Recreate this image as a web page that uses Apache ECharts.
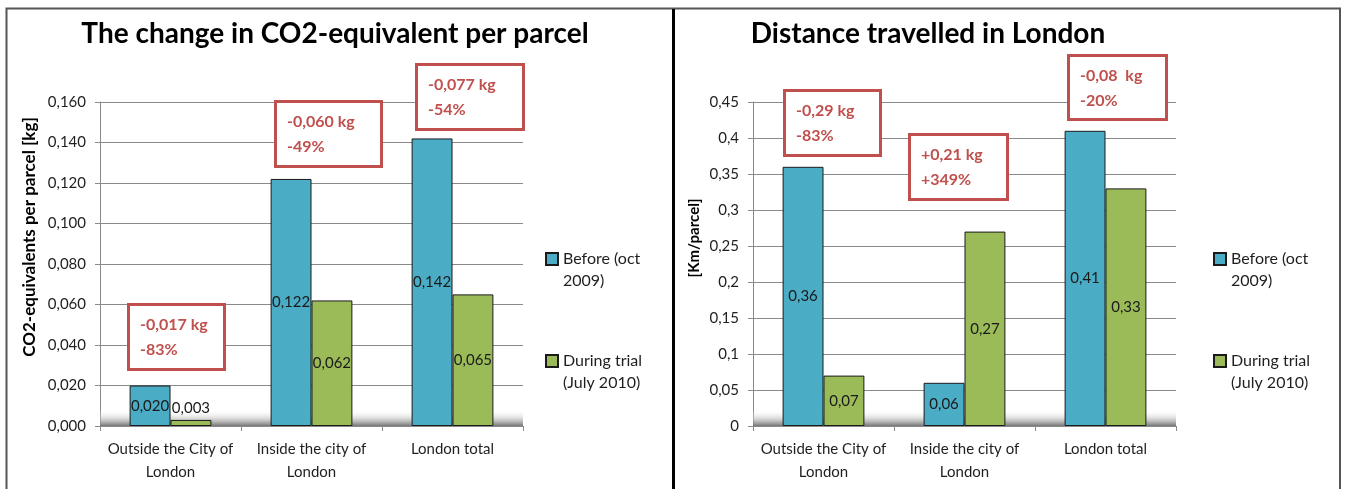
<!DOCTYPE html>
<html>
<head>
<meta charset="utf-8">
<script src="https://cdn.jsdelivr.net/npm/echarts@6/dist/echarts.min.js"></script>
<style>
html,body{margin:0;padding:0;background:#fff;}
#c{width:1347px;height:489px;}
</style>
</head>
<body>
<div id="c"></div>
<script>
// ---- data ----
const categories = ['Outside the City of\nLondon', 'Inside the city of\nLondon', 'London total'];
const seriesNames = ['Before (oct\n2009)', 'During trial\n(July 2010)'];
const co2Before = [0.020, 0.122, 0.142];
const co2During = [0.003, 0.062, 0.065];
const distBefore = [0.36, 0.06, 0.41];
const distDuring = [0.07, 0.27, 0.33];
const co2Axis = { min: 0, max: 0.16, interval: 0.02 };
const distAxis = { min: 0, max: 0.45, interval: 0.05 };
const co2Title = 'The change in CO2-equivalent per parcel';
const distTitle = 'Distance travelled in London';
const co2AxisName = 'CO2-equivalents per parcel [kg]';
const distAxisName = '[Km/parcel]';
const co2Notes = [['-0,017 kg', '-83%'], ['-0,060 kg', '-49%'], ['-0,077 kg', '-54%']];
const distNotes = [['-0,29 kg', '-83%'], ['+0,21 kg', '+349%'], ['-0,08  kg', '-20%']];

// ---- style / layout ----
const FONT = 'Lato, "Open Sans", sans-serif';
const BLUE = '#4BACC6', GREEN = '#9BBB59', RED = '#C0504D';
const TXT = '#1f1f1f', GRID = '#8a8a8a';
const co2Boxes = [[127, 303, 226, 371], [274, 100, 383, 168], [415, 63, 525, 131]];
const distBoxes = [[783, 89, 882, 157], [908, 133, 1009, 201], [1067, 54, 1168, 121]];

const chart = echarts.init(document.getElementById('c'), null, { renderer: 'canvas' });

function fmt(d) { return v => v.toFixed(d).replace('.', ','); }
function fmtTrim(v) { return String(Math.round(v * 100) / 100).replace('.', ','); }

function xAxis(gi) {
  return {
    type: 'category', gridIndex: gi, data: categories,
    axisLine: { lineStyle: { color: GRID, width: 1 } },
    axisTick: { show: true, length: 5, alignWithLabel: false, lineStyle: { color: GRID } },
    axisLabel: { interval: 0, fontFamily: FONT, fontSize: 15, color: TXT, lineHeight: 23, margin: 12 }
  };
}
function yAxis(gi, ax, formatter) {
  return {
    type: 'value', gridIndex: gi, min: ax.min, max: ax.max, interval: ax.interval,
    axisLine: { show: true, lineStyle: { color: GRID } },
    axisTick: { show: true, length: 5, lineStyle: { color: GRID } },
    splitLine: { lineStyle: { color: GRID } },
    axisLabel: { fontFamily: FONT, fontSize: 15, color: TXT, margin: 14, formatter: formatter }
  };
}
function barSeries(name, data, gi, color, decimals, custom) {
  return {
    type: 'bar', name: name, xAxisIndex: gi, yAxisIndex: gi,
    data: data.map((v, i) => (custom && custom[i]) ? Object.assign({ value: v }, custom[i]) : v),
    barGap: '0%', barCategoryGap: '42%', z: 3,
    itemStyle: { color: color, borderColor: '#1a1a1a', borderWidth: 1 },
    label: { show: true, position: 'inside', fontFamily: FONT, fontSize: 15, color: '#1a1a1a',
      formatter: p => p.value.toFixed(decimals).replace('.', ',') }
  };
}
function floorSeries(gi, top) {
  return {
    type: 'line', xAxisIndex: gi, yAxisIndex: gi, data: [], silent: true, z: 1,
    markArea: { silent: true,
      itemStyle: { color: new echarts.graphic.LinearGradient(0, 0, 0, 1, [
        { offset: 0, color: 'rgba(255,255,255,0)' }, { offset: 0.55, color: 'rgba(190,190,190,0.6)' }, { offset: 1, color: 'rgba(110,110,110,0.95)' }]) },
      data: [[{ yAxis: 0 }, { yAxis: top }]] }
  };
}
function legend(left) {
  return {
    data: seriesNames, orient: 'vertical', left: left, top: 226, padding: 0,
    itemWidth: 12, itemHeight: 12, itemGap: 36, icon: 'rect', selectedMode: false,
    formatter: name => ' \n' + name,
    textStyle: { fontFamily: FONT, fontSize: 16, color: TXT, lineHeight: 22 }
  };
}
function noteGraphics(notes, boxes) {
  const out = [];
  notes.forEach((n, i) => {
    const b = boxes[i];
    out.push({ type: 'rect', z: 10, shape: { x: b[0] + 1.5, y: b[1] + 1.5, width: b[2] - b[0] - 3, height: b[3] - b[1] - 3 },
      style: { fill: '#fff', stroke: RED, lineWidth: 3 } });
    n.forEach((t, j) => out.push({ type: 'text', z: 11, x: b[0] + 13, y: b[1] + 22 + j * 25,
      style: { text: t, fill: RED, font: 'bold 16px ' + FONT, textVerticalAlign: 'middle' } }));
  });
  return out;
}

const graphics = [
  { type: 'rect', z: 0, shape: { x: 6.5, y: 8.5, width: 1333.5, height: 490 }, style: { fill: 'none', stroke: '#555', lineWidth: 2 } },
  { type: 'line', z: 20, shape: { x1: 673.5, y1: 9, x2: 673.5, y2: 489 }, style: { stroke: '#000', lineWidth: 3 } },
  { type: 'text', x: 335, y: 34, style: { text: co2Title, font: 'bold 28px ' + FONT, fill: '#000', textAlign: 'center', textVerticalAlign: 'middle' } },
  { type: 'text', x: 928, y: 34, style: { text: distTitle, font: 'bold 28px ' + FONT, fill: '#000', textAlign: 'center', textVerticalAlign: 'middle' } },
  { type: 'text', x: 30, y: 237, rotation: Math.PI / 2, style: { text: co2AxisName, font: 'bold 17px ' + FONT, fill: '#000', textAlign: 'center', textVerticalAlign: 'middle' } },
  { type: 'text', x: 694, y: 238, rotation: Math.PI / 2, style: { text: distAxisName, font: 'bold 15px ' + FONT, fill: '#000', textAlign: 'center', textVerticalAlign: 'middle' } }
].concat(noteGraphics(co2Notes, co2Boxes), noteGraphics(distNotes, distBoxes));

chart.setOption({
  animation: false,
  backgroundColor: '#fff',
  color: [BLUE, GREEN],
  grid: [
    { left: 100, top: 102, width: 423, height: 324 },
    { left: 753, top: 102, width: 423, height: 324 }
  ],
  xAxis: [xAxis(0), xAxis(1)],
  yAxis: [yAxis(0, co2Axis, fmt(3)), yAxis(1, distAxis, fmtTrim)],
  legend: [legend(545), legend(1213)],
  series: [
    floorSeries(0, 0.008),
    floorSeries(1, 0.0225),
    barSeries(seriesNames[0], co2Before, 0, BLUE, 3),
    barSeries(seriesNames[1], co2During, 0, GREEN, 3, { 0: { label: { position: 'top', distance: 4 } } }),
    barSeries(seriesNames[0], distBefore, 1, BLUE, 2),
    barSeries(seriesNames[1], distDuring, 1, GREEN, 2)
  ],
  graphic: graphics
});
</script>
</body>
</html>
